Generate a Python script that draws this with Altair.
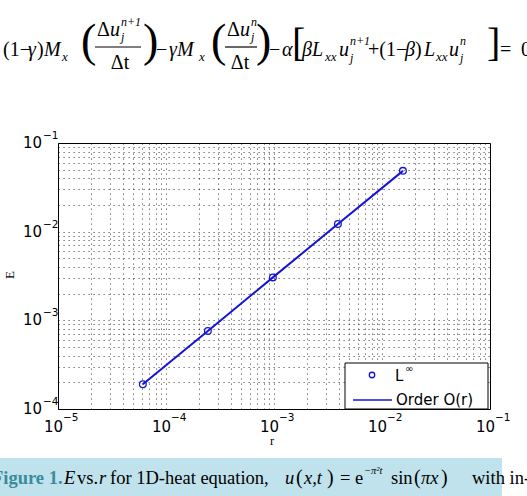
import altair as alt
import pandas as pd

# ---------------- data ----------------
r_vals = [6.1035e-5, 2.4414e-4, 9.7656e-4, 3.9063e-3, 1.5625e-2]
E_vals = [1.9e-4, 7.6e-4, 3.05e-3, 1.22e-2, 4.85e-2]

x_decades = [1e-5, 1e-4, 1e-3, 1e-2, 1e-1]
x_exps = ["−5", "−4", "−3", "−2", "−1"]
y_decades = [1e-4, 1e-3, 1e-2, 1e-1]
y_exps = ["−4", "−3", "−2", "−1"]

x_grid = [m * 10.0 ** k for k in range(-5, -1) for m in range(1, 10)] + [1e-1]
y_grid = [m * 10.0 ** k for k in range(-4, -1) for m in range(1, 10)] + [1e-1]

# ---------------- layout ----------------
L, T = 58, 143
W, H = 432, 266
BLUE = "#1414d8"
SERIF = "Liberation Serif"
SANS = "DejaVu Sans"

xs = alt.Scale(type="log", domain=[1e-5, 1e-1], nice=False)
ys = alt.Scale(type="log", domain=[1e-4, 1e-1], nice=False)
grid_kw = dict(labels=False, ticks=False, title=None, domain=False, grid=True,
               gridDash=[1.2, 3.8], gridColor="#000", gridOpacity=0.65, gridWidth=1)
xaxis = alt.Axis(values=x_grid, **grid_kw)
yaxis = alt.Axis(values=y_grid, **grid_kw)

df = pd.DataFrame({"r": r_vals, "E": E_vals})
one = alt.Data(values=[{"a": 1}])

line = alt.Chart(df).mark_line(color=BLUE, strokeWidth=2).encode(
    x=alt.X("r:Q", scale=xs, axis=xaxis), y=alt.Y("E:Q", scale=ys, axis=yaxis))
pts = alt.Chart(df).mark_point(shape="circle", filled=False, color=BLUE, size=45,
                               strokeWidth=1.3, opacity=1).encode(
    x=alt.X("r:Q", scale=xs, axis=xaxis), y=alt.Y("E:Q", scale=ys, axis=yaxis))

dfx = pd.DataFrame({"v": x_decades, "e": x_exps})
dfy = pd.DataFrame({"v": y_decades, "e": y_exps})

xl10 = alt.Chart(dfx).mark_text(text="10", align="right", baseline="middle", dx=5,
                                font=SANS, fontSize=15, color="black").encode(
    x=alt.X("v:Q", scale=xs, axis=xaxis), y=alt.value(H + 18))
xlsup = alt.Chart(dfx).mark_text(align="left", baseline="middle", dx=5,
                                 font=SANS, fontSize=10.5, color="black").encode(
    x=alt.X("v:Q", scale=xs, axis=xaxis), y=alt.value(H + 9), text="e:N")
yl10 = alt.Chart(dfy).mark_text(text="10", align="right", baseline="middle",
                                font=SANS, fontSize=15, color="black").encode(
    y=alt.Y("v:Q", scale=ys, axis=yaxis), x=alt.value(-16))
ylsup = alt.Chart(dfy).mark_text(align="left", baseline="middle", dy=-7,
                                 font=SANS, fontSize=10.5, color="black").encode(
    y=alt.Y("v:Q", scale=ys, axis=yaxis), x=alt.value(-15), text="e:N")


def txt(s, x, y, size=20, font=SERIF, style="normal", weight="normal",
        color="black", align="left", angle=0):
    return alt.Chart(one).mark_text(
        text=s, align=align, baseline="middle", font=font, fontSize=size,
        fontStyle=style, fontWeight=weight, color=color, angle=angle).encode(
        x=alt.value(x - L), y=alt.value(y - T))


def hrule(x1, x2, y, color="black", width=1.2):
    return alt.Chart(one).mark_rule(color=color, strokeWidth=width).encode(
        x=alt.value(x1 - L), x2=alt.value(x2 - L), y=alt.value(y - T))


def box(x1, x2, y1, y2, fill, stroke=None, sw=0):
    kw = dict(fill=fill, strokeWidth=sw)
    if stroke:
        kw["stroke"] = stroke
    return alt.Chart(one).mark_rect(**kw).encode(
        x=alt.value(x1 - L), x2=alt.value(x2 - L),
        y=alt.value(y1 - T), y2=alt.value(y2 - T))


layers = [line, pts, xl10, xlsup, yl10, ylsup]

# axis titles
layers.append(txt("E", 10, 275, size=13, angle=270, align="center"))
layers.append(txt("r", 272, 441, size=12.5, align="center"))

# legend
layers.append(box(345, 488, 363, 409, "white", "black", 1))
layers.append(alt.Chart(one).mark_point(shape="circle", filled=False, color=BLUE,
                                        size=30, strokeWidth=1.3, opacity=1).encode(
    x=alt.value(372 - L), y=alt.value(375 - T)))
layers.append(txt("L", 395, 376, size=15, font=SANS))
layers.append(txt("∞", 405, 369, size=10, font=SANS))
layers.append(hrule(353, 392, 400, BLUE, 1.5))
layers.append(txt("Order O(r)", 396, 400, size=15, font=SANS))

# equation at top
EQ_Y = 50
sub_y = 57
num_y = 30
den_y = 63
PAREN = 46
eq = [
    ("(1−", 3, EQ_Y, 20, "normal"), ("γ", 28, EQ_Y, 20, "italic"), (")", 37, EQ_Y, 20, "normal"),
    ("M", 44, EQ_Y, 20, "italic"), ("x", 62, sub_y, 13, "italic"),
    ("(", 81, 42, PAREN, "normal"),
    ("Δ", 97, num_y, 20, "normal"), ("u", 110, num_y, 20, "italic"),
    ("j", 121, 37, 12, "italic"), ("n+1", 121, 22, 12, "italic"),
    (")", 143, 42, PAREN, "normal"),
    ("−", 156, EQ_Y, 20, "normal"), ("γM", 169, EQ_Y, 20, "italic"), ("x", 199, sub_y, 13, "italic"),
    ("(", 211, 42, PAREN, "normal"),
    ("Δ", 227, num_y, 20, "normal"), ("u", 240, num_y, 20, "italic"),
    ("j", 251, 37, 12, "italic"), ("n", 251, 22, 12, "italic"),
    (")", 256, 42, PAREN, "normal"),
    ("−", 269, EQ_Y, 20, "normal"), ("α", 282, EQ_Y, 20, "italic"),
    ("[", 292, 44, 40, "normal"),
    ("βL", 302, EQ_Y, 20, "italic"), ("xx", 325, sub_y, 13, "italic"),
    ("u", 339, EQ_Y, 20, "italic"), ("j", 350, 58, 12, "italic"), ("n+1", 350, 41, 12, "italic"),
    ("+(1−", 368, EQ_Y, 20, "normal"), ("β", 405, EQ_Y, 20, "italic"), (")", 415, EQ_Y, 20, "normal"),
    ("L", 424, EQ_Y, 20, "italic"), ("xx", 436, sub_y, 13, "italic"),
    ("u", 449, EQ_Y, 20, "italic"), ("j", 460, 58, 12, "italic"), ("n", 460, 41, 12, "italic"),
    ("]", 487, 44, 40, "normal"),
    ("=", 500, EQ_Y, 20, "normal"), ("0", 521, EQ_Y, 20, "normal"),
]
for s, x, y, sz, st in eq:
    layers.append(txt(s, x, y, size=sz, style=st))
layers.append(txt("Δt", 120, den_y, size=20, align="center"))
layers.append(txt("Δt", 240, den_y, size=20, align="center"))
layers.append(hrule(95, 141, 47))
layers.append(hrule(225, 257, 47))

# caption
CY = 478
CS = 18.5
layers.append(box(0, 502, 458, 496, "#c0e2ec"))
cap = [
    ("Figure 1.", -8, CY, CS, "normal", "bold", "#3a8c9c"),
    ("E", 64, CY, CS, "italic", "normal", "black"),
    ("vs.", 77, CY, CS, "normal", "normal", "black"),
    ("r", 99, CY, CS, "italic", "normal", "black"),
    ("for 1D-heat equation,", 110, CY, CS, "normal", "normal", "black"),
    ("u", 285, CY, CS, "italic", "normal", "black"),
    ("(", 296, CY, 20, "normal", "normal", "black"),
    ("x,t", 304, CY, CS, "italic", "normal", "black"),
    (")", 327, CY, 20, "normal", "normal", "black"),
    ("=", 340, CY, CS, "normal", "normal", "black"),
    ("e", 355, CY, CS, "normal", "normal", "black"),
    ("−π²t", 364, 471, 10.5, "italic", "normal", "black"),
    ("sin", 391, CY, CS, "normal", "normal", "black"),
    ("(", 414, CY, 20, "normal", "normal", "black"),
    ("πx", 421, CY, CS, "italic", "normal", "black"),
    (")", 441, CY, 20, "normal", "normal", "black"),
    ("with in-", 472, CY, CS, "normal", "normal", "black"),
]
for s, x, y, sz, st, wt, col in cap:
    layers.append(txt(s, x, y, size=sz, style=st, weight=wt, color=col))

chart = alt.layer(*layers).properties(
    width=W, height=H,
    autosize=alt.AutoSizeParams(type="none"),
    padding={"left": L, "top": T, "right": 527 - L - W, "bottom": 496 - T - H},
    background="white",
).configure_view(stroke="black", strokeWidth=1)

chart.save("out.html", embed_options={"renderer": "svg", "actions": False})
